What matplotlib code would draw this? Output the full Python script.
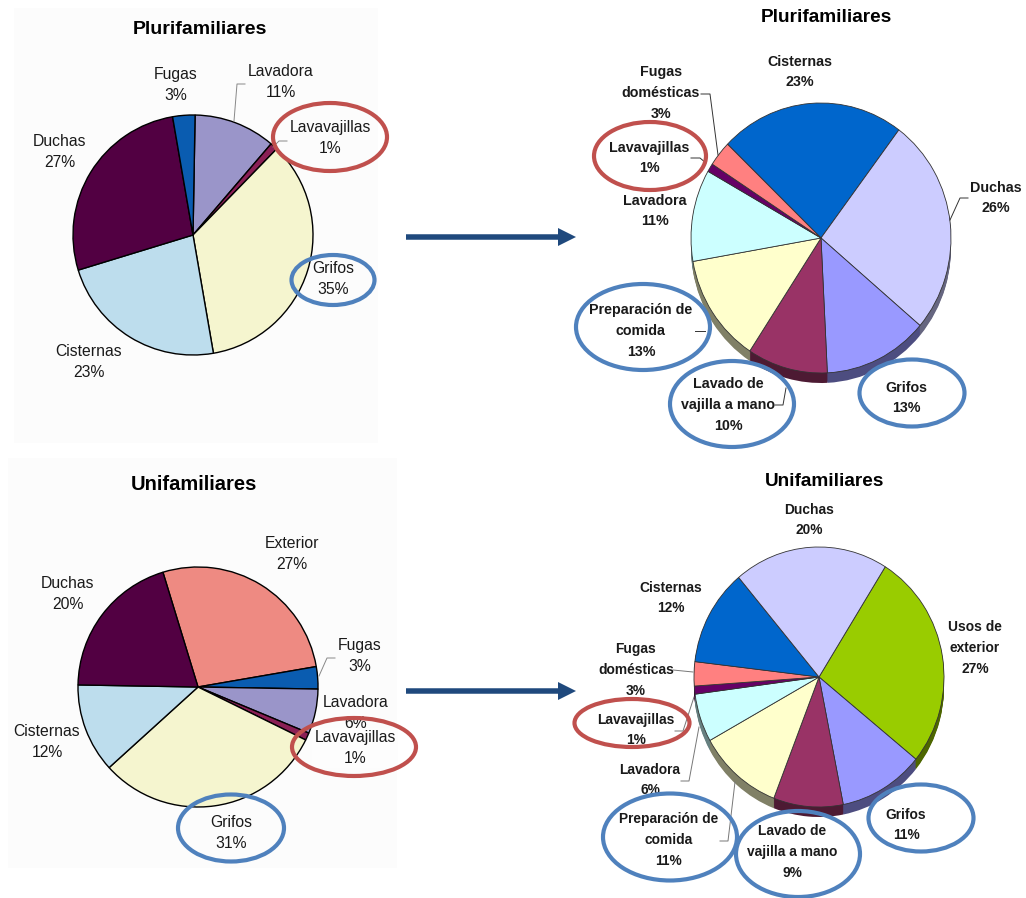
#!/usr/bin/env python3
"""Consumo de agua por usos: tartas 2D a la izquierda, tartas 3D a la derecha."""
import matplotlib
matplotlib.use('Agg')
import matplotlib.pyplot as plt
from matplotlib.colors import to_rgb
from matplotlib.patches import Ellipse, Rectangle

plt.rcParams['font.family'] = ['Liberation Sans', 'DejaVu Sans']

W, H = 1026, 898

# datos (sentido horario desde startangle)
pluri_a_names = ['Lavadora', 'Lavavajillas', 'Grifos', 'Cisternas', 'Duchas', 'Fugas']
pluri_a_values = [11, 1, 35, 23, 27, 3]
uni_a_names = ['Exterior', 'Fugas', 'Lavadora', 'Lavavajillas', 'Grifos', 'Cisternas', 'Duchas']
uni_a_values = [27, 3, 6, 1, 31, 12, 20]
pluri_b_names = ['Cisternas', 'Duchas', 'Grifos', 'Lavado de\nvajilla a mano',
                 'Preparación de\ncomida', 'Lavadora', 'Lavavajillas', 'Fugas\ndomésticas']
pluri_b_values = [23, 26, 13, 10, 13, 11, 1, 3]
uni_b_names = ['Usos de\nexterior', 'Grifos', 'Lavado de\nvajilla a mano',
               'Preparación de\ncomida', 'Lavadora', 'Lavavajillas',
               'Fugas\ndomésticas', 'Cisternas', 'Duchas']
uni_b_values = [27, 11, 9, 11, 6, 1, 3, 12, 20]

COL_A = {'Lavadora': '#9A95C9', 'Lavavajillas': '#8A1F55', 'Grifos': '#F5F5CF',
         'Cisternas': '#BDDDED', 'Duchas': '#520042', 'Fugas': '#0A5CB0',
         'Exterior': '#EE8A82'}
COL_B = {'Cisternas': '#0066CC', 'Duchas': '#CCCCFF', 'Grifos': '#9999FF',
         'Lavado de\nvajilla a mano': '#993366', 'Preparación de\ncomida': '#FFFFCC',
         'Lavadora': '#CCFFFF', 'Lavavajillas': '#660066', 'Fugas\ndomésticas': '#FF8080',
         'Usos de\nexterior': '#99CC00'}

RED = '#C0504D'
BLUE = '#4F81BD'
ARROW = '#1F497D'


def draw_pie(values, colors, cx, cy, rx, ry, start, depth=0, edge='black', lw=1.0):
    m = 1.25
    ax = fig.add_axes([(cx - rx * m) / W, 1 - (cy + ry * m) / H, 2 * rx * m / W, 2 * ry * m / H],
                      zorder=2)
    # pared lateral: la misma tarta oscurecida y bajada pixel a pixel
    dark = [tuple(c * 0.5 for c in to_rgb(col)) for col in colors]
    for k in range(depth, 0, -1):
        ax.pie(values, colors=dark, startangle=start, counterclock=False, center=(0, -k / ry),
               wedgeprops={'edgecolor': 'none', 'linewidth': 0})
    ax.pie(values, colors=colors, startangle=start, counterclock=False,
           wedgeprops={'edgecolor': edge, 'linewidth': lw})
    ax.set_aspect('auto')
    ax.set_xlim(-m, m)
    ax.set_ylim(-m, m)


def put_labels(names, values, spots, size, weight='normal', spacing=1.55):
    for name, val, (x, y) in zip(names, values, spots):
        kw = {}
        if name == 'Lavavajillas' and (x, y) == (355, 748):
            kw['bbox'] = {'fc': '#FDFDFD', 'ec': 'none', 'pad': 1.5}  # tapa el 6% como el original
        over.text(x, y, f'{name}\n{val}%', ha='center', va='center', fontsize=size,
                  fontweight=weight, color='#1A1A1A', linespacing=spacing, zorder=3, **kw)


def leader(pts, color):
    over.plot([p[0] for p in pts], [p[1] for p in pts], color=color, lw=0.7, zorder=2)


def ring(x, y, w, h, color):
    over.add_patch(Ellipse((x, y), w, h, fill=False, ec=color, lw=3.0, zorder=4))


fig = plt.figure(figsize=(W / 100, H / 100), dpi=100, facecolor='white')

back = fig.add_axes([0, 0, 1, 1], zorder=0)
back.set_xlim(0, W); back.set_ylim(H, 0); back.axis('off')
back.add_patch(Rectangle((14, 8), 364, 435, fc='#FCFCFC', ec='none'))
back.add_patch(Rectangle((8, 458), 389, 410, fc='#FCFCFC', ec='none'))

draw_pie(pluri_a_values, [COL_A[n] for n in pluri_a_names], 193, 235, 120, 120, 89)
draw_pie(uni_a_values, [COL_A[n] for n in uni_a_names], 198, 687, 120, 120, 107)
draw_pie(pluri_b_values, [COL_B[n] for n in pluri_b_names], 821, 238, 130, 135, 136,
         depth=10, edge='#333333', lw=0.6)
draw_pie(uni_b_values, [COL_B[n] for n in uni_b_names], 819, 677, 125, 130, 58,
         depth=10, edge='#333333', lw=0.6)

over = fig.add_axes([0, 0, 1, 1], zorder=3)
over.set_xlim(0, W); over.set_ylim(H, 0); over.axis('off')

# títulos
over.text(200, 30, 'Plurifamiliares', ha='center', va='center', fontsize=14, fontweight='bold')
over.text(194, 484, 'Unifamiliares', ha='center', va='center', fontsize=14.5, fontweight='bold')
over.text(826, 17, 'Plurifamiliares', ha='center', va='center', fontsize=13.7, fontweight='bold')
over.text(825, 482, 'Unifamiliares', ha='center', va='center', fontsize=13.7, fontweight='bold')

# etiquetas
put_labels(pluri_a_names, pluri_a_values,
           [(281, 82), (330, 138), (333, 279), (89, 362), (60, 152), (176, 85)], 11.3)
put_labels(uni_a_names, uni_a_values,
           [(292, 554), (360, 656), (356, 713), (355, 748), (231, 833), (47, 742), (68, 594)], 11.3)
put_labels(pluri_b_names, pluri_b_values,
           [(800, 72), (996, 198), (906, 398), (728, 405), (641, 331), (655, 211), (649, 158), (661, 93)],
           10.3, weight='bold', spacing=1.6)
put_labels(uni_b_names, uni_b_values,
           [(975, 648), (906, 825), (792, 852), (669, 840), (650, 780), (636, 730), (636, 670), (671, 598), (809, 520)],
           9.9, weight='bold', spacing=1.6)

# líneas guía
leader([(245, 84), (237, 84), (234, 121)], '#888888')
leader([(287, 141), (279, 141), (273, 147)], '#888888')
leader([(335, 658), (327, 658), (319, 676)], '#888888')
leader([(701, 94), (710, 94), (718, 155)], '#333333')
leader([(691, 158), (700, 158), (706, 163)], '#333333')
leader([(968, 198), (960, 198), (950, 220)], '#333333')
leader([(695, 331), (705, 331)], '#333333')
leader([(775, 405), (783, 405), (786, 388)], '#333333')
leader([(673, 670), (693, 672)], '#777777')
leader([(675, 731), (683, 731), (694, 697)], '#777777')
leader([(681, 781), (689, 781), (699, 727)], '#777777')
leader([(720, 841), (728, 841), (735, 782)], '#777777')

# flechas
for y in (237, 691):
    over.arrow(406, y, 170, 0, width=5.5, head_width=18, head_length=18,
               length_includes_head=True, fc=ARROW, ec='none', zorder=3)

# círculos
ring(330, 137, 114, 68, RED)
ring(333, 280, 83, 50, BLUE)
ring(650, 156, 112, 68, RED)
ring(643, 327, 134, 86, BLUE)
ring(732, 404, 124, 86, BLUE)
ring(912, 393, 105, 67, BLUE)
ring(354, 747, 124, 58, RED)
ring(231, 828, 106, 67, BLUE)
ring(632, 723, 115, 48, RED)
ring(670, 837, 134, 87, BLUE)
ring(798, 854, 124, 86, BLUE)
ring(921, 818, 105, 67, BLUE)

fig.savefig('out.png', dpi=100)
plt.close(fig)
